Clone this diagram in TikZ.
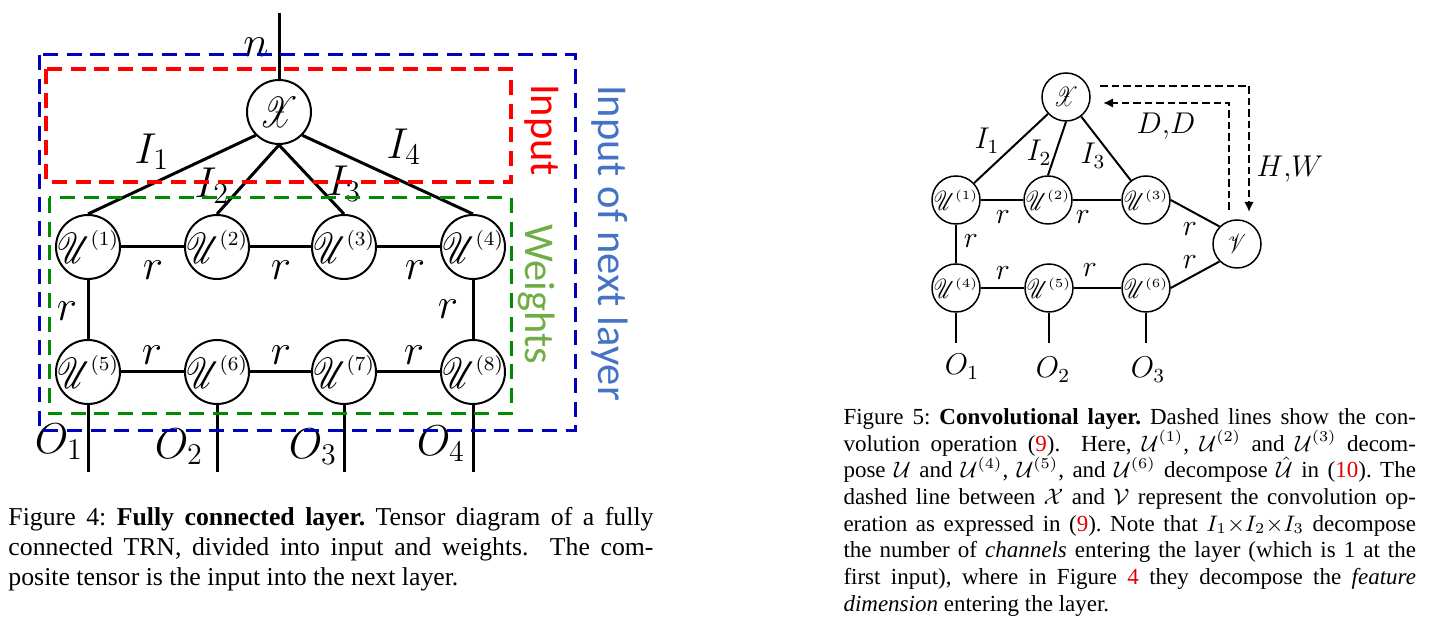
\documentclass[tikz,border=0pt]{standalone}
\usepackage{fontspec}
\setmainfont{Liberation Serif}
\newfontfamily\calibri{Carlito}
\usepackage{mathrsfs}
\usepackage{graphicx}
\usetikzlibrary{arrows.meta}
\definecolor{tblack}{HTML}{000000}
\definecolor{boxblue}{HTML}{0000BF}
\definecolor{boxred}{HTML}{FF0000}
\definecolor{boxgreen}{HTML}{008C00}
\definecolor{txtblue}{HTML}{4472C4}
\definecolor{txtgreen}{HTML}{70AD47}
\definecolor{txtred}{HTML}{FF0000}
\definecolor{refred}{HTML}{E00000}
\newcommand{\nscr}[1]{\scalebox{0.74}[1]{$\mathscr{#1}$}}

\tikzset{
  fcnode/.style={circle, draw=tblack, line width=0.8pt, minimum size=25.6pt, inner sep=0pt, font=\fontsize{17}{20}\selectfont},
  fcbond/.style={draw=tblack, line width=1.2pt},
  fclabel/.style={inner sep=0pt, font=\fontsize{17}{20}\selectfont},
  fcbox/.style={line width=1.2pt, dash pattern=on 6pt off 3.5pt},
  fcside/.style={rotate=-90, inner sep=0pt, font=\calibri\fontsize{17}{20}\selectfont},
  cvnode/.style={circle, draw=tblack, line width=0.6pt, minimum size=19.2pt, inner sep=0pt, font=\fontsize{11}{13}\selectfont},
  cvbond/.style={draw=tblack, line width=0.8pt},
  cvlabel/.style={inner sep=0pt, font=\fontsize{11.5}{13}\selectfont},
  cvdash/.style={line width=0.8pt, dash pattern=on 3pt off 1.6pt, -{Latex[length=4pt,width=3.8pt]}},
  capbox/.style={anchor=north west, inner sep=0pt, align=left}
}

\begin{document}
\frenchspacing
\begin{tikzpicture}[x=0.4pt, y=-0.4pt]
  \useasboundingbox (0,0) rectangle (1448,644);

  % fully connected layer
  \node[fcnode] (fx) at (279,112) {\makebox[0pt]{$\nscr{X}$}};
  \node[fcnode] (fu1) at (88,247) {\makebox[0pt]{${\nscr{U}}^{\scriptscriptstyle(1)}$}};
  \node[fcnode] (fu2) at (217,247) {\makebox[0pt]{${\nscr{U}}^{\scriptscriptstyle(2)}$}};
  \node[fcnode] (fu3) at (344,247) {\makebox[0pt]{${\nscr{U}}^{\scriptscriptstyle(3)}$}};
  \node[fcnode] (fu4) at (473,247) {\makebox[0pt]{${\nscr{U}}^{\scriptscriptstyle(4)}$}};
  \node[fcnode] (fu5) at (88,372) {\makebox[0pt]{${\nscr{U}}^{\scriptscriptstyle(5)}$}};
  \node[fcnode] (fu6) at (217,372) {\makebox[0pt]{${\nscr{U}}^{\scriptscriptstyle(6)}$}};
  \node[fcnode] (fu7) at (344,372) {\makebox[0pt]{${\nscr{U}}^{\scriptscriptstyle(7)}$}};
  \node[fcnode] (fu8) at (473,372) {\makebox[0pt]{${\nscr{U}}^{\scriptscriptstyle(8)}$}};
  \coordinate (fn) at (279,13);
  \coordinate (fo1) at (88,472);
  \coordinate (fo2) at (217,472);
  \coordinate (fo3) at (344,472);
  \coordinate (fo4) at (473,472);

  \draw[fcbond] (fn) -- (fx);
  \draw[fcbond] (fx.-135) -- (fu1.north);
  \draw[fcbond] (fx.south) -- (fu2.north);
  \draw[fcbond] (fx.south) -- (fu3.north);
  \draw[fcbond] (fx.-45) -- (fu4.north);
  \draw[fcbond] (fu1) -- (fu2) -- (fu3) -- (fu4);
  \draw[fcbond] (fu5) -- (fu6) -- (fu7) -- (fu8);
  \draw[fcbond] (fu1) -- (fu5);
  \draw[fcbond] (fu4) -- (fu8);
  \draw[fcbond] (fu5) -- (fo1);
  \draw[fcbond] (fu6) -- (fo2);
  \draw[fcbond] (fu7) -- (fo3);
  \draw[fcbond] (fu8) -- (fo4);

  \node[fclabel] (fln) at (256,47) {$n$};
  \node[fclabel] (fli1) at (152,152) {$I_1$};
  \node[fclabel] (fli2) at (212,186) {$I_2$};
  \node[fclabel] (fli3) at (344,184) {$I_3$};
  \node[fclabel] (fli4) at (404,147) {$I_4$};
  \node[fclabel] (flr1) at (153,270) {$r$};
  \node[fclabel] (flr2) at (281,270) {$r$};
  \node[fclabel] (flr3) at (415,270) {$r$};
  \node[fclabel] (flr4) at (67,311) {$r$};
  \node[fclabel] (flr5) at (448,309) {$r$};
  \node[fclabel] (flr6) at (152,355) {$r$};
  \node[fclabel] (flr7) at (281,355) {$r$};
  \node[fclabel] (flr8) at (414,355) {$r$};
  \node[fclabel] (flo1) at (59,442) {$O_1$};
  \node[fclabel] (flo2) at (179,447) {$O_2$};
  \node[fclabel] (flo3) at (313,447) {$O_3$};
  \node[fclabel] (flo4) at (441,444) {$O_4$};

  % dashed groups
  \draw[fcbox, boxblue] (39,55) rectangle (575,431);
  \draw[fcbox, boxred, line width=1.6pt] (46,69) rectangle (511,182);
  \draw[fcbox, boxgreen] (49,198) rectangle (511,414);
  \node[fcside, text=txtred] (fsin) at (542,130) {Input};
  \node[fcside, text=txtgreen] (fsw) at (537,294) {Weights};
  \node[fcside, text=txtblue] (fsnext) at (610,243) {Input of next layer};

  \node[capbox, font=\fontsize{10.3}{12}\selectfont] (fcap) at (8,507)
    {\hbox to 258pt{Figure 4: \textbf{Fully connected layer.} Tensor diagram of a fully}\\
     \hbox to 258pt{connected TRN, divided into input and weights.\ \ The com-}\\
     posite tensor is the input into the next layer.};

  % convolutional layer
  \node[cvnode] (cx) at (1066,97) {\makebox[0pt]{$\nscr{X}$}};
  \node[cvnode] (cu1) at (956,200) {\makebox[0pt]{${\nscr{U}}^{\scriptscriptstyle(1)}$}};
  \node[cvnode] (cu2) at (1048,200) {\makebox[0pt]{${\nscr{U}}^{\scriptscriptstyle(2)}$}};
  \node[cvnode] (cu3) at (1146,200) {\makebox[0pt]{${\nscr{U}}^{\scriptscriptstyle(3)}$}};
  \node[cvnode] (cv) at (1237,244) {\makebox[0pt]{$\nscr{V}$}};
  \node[cvnode] (cu4) at (956,288) {\makebox[0pt]{${\nscr{U}}^{\scriptscriptstyle(4)}$}};
  \node[cvnode] (cu5) at (1049,288) {\makebox[0pt]{${\nscr{U}}^{\scriptscriptstyle(5)}$}};
  \node[cvnode] (cu6) at (1146,288) {\makebox[0pt]{${\nscr{U}}^{\scriptscriptstyle(6)}$}};
  \coordinate (co1) at (956,343);
  \coordinate (co2) at (1049,343);
  \coordinate (co3) at (1146,343);

  \draw[cvbond] (cx) -- (cu1);
  \draw[cvbond] (cx.south) -- (cu2.north);
  \draw[cvbond] (cx) -- (cu3);
  \draw[cvbond] (cu1) -- (cu2) -- (cu3);
  \draw[cvbond] (cu3.east) -- (cv.north west);
  \draw[cvbond] (cu6.east) -- (cv.south west);
  \draw[cvbond] (cu6) -- (cu5) -- (cu4) -- (cu1);
  \draw[cvbond] (cu4) -- (co1);
  \draw[cvbond] (cu5) -- (co2);
  \draw[cvbond] (cu6) -- (co3);

  \coordinate (cdd0) at (1229,210);
  \coordinate (cdd1) at (1103,103);
  \coordinate (chw0) at (1100,86);
  \coordinate (chw1) at (1249,212);
  \draw[cvdash] (cdd0) |- (cdd1);
  \draw[cvdash] (chw0) -| (chw1);

  \node[cvlabel] (cli1) at (987,141) {$I_1$};
  \node[cvlabel] (cli2) at (1039,153) {$I_2$};
  \node[cvlabel] (cli3) at (1093,156) {$I_3$};
  \node[cvlabel] (clr1) at (1003,217) {$r$};
  \node[cvlabel] (clr2) at (1083,217) {$r$};
  \node[cvlabel] (clr3) at (971,241) {$r$};
  \node[cvlabel] (clr4) at (1003,273) {$r$};
  \node[cvlabel] (clr5) at (1090,270) {$r$};
  \node[cvlabel] (clr6) at (1190,229) {$r$};
  \node[cvlabel] (clr7) at (1190,262) {$r$};
  \node[cvlabel] (clo1) at (962,367) {$O_1$};
  \node[cvlabel] (clo2) at (1053,370) {$O_2$};
  \node[cvlabel] (clo3) at (1148,370) {$O_3$};
  \node[cvlabel] (cldd) at (1166,126) {$D{,}D$};
  \node[cvlabel] (clhw) at (1290,169) {$H{,}W$};

  \node[capbox, font=\fontsize{9.2}{10.68}\selectfont] (ccap) at (843,408)
    {\hbox to 229pt{Figure 5: \textbf{Convolutional layer.} Dashed lines show the con-}\\
     \hbox to 229pt{volution operation (\textcolor{refred}{9}).\ \ Here, $\mathcal{U}^{(1)}$, $\mathcal{U}^{(2)}$ and $\mathcal{U}^{(3)}$ decom-}\\
     \hbox to 229pt{pose $\mathcal{U}$ and $\mathcal{U}^{(4)}$, $\mathcal{U}^{(5)}$, and $\mathcal{U}^{(6)}$ decompose $\hat{\mathcal{U}}$ in (\textcolor{refred}{10}). The}\\
     \hbox to 229pt{dashed line between $\mathcal{X}$ and $\mathcal{V}$ represent the convolution op-}\\
     \hbox to 229pt{eration as expressed in (\textcolor{refred}{9}). Note that $I_1{\times}I_2{\times}I_3$ decompose}\\
     \hbox to 229pt{the number of \textit{channels} entering the layer (which is 1 at the}\\
     \hbox to 229pt{first input), where in Figure \textcolor{refred}{4} they decompose the \textit{feature}}\\
     \textit{dimension} entering the layer.};
\end{tikzpicture}
\end{document}
